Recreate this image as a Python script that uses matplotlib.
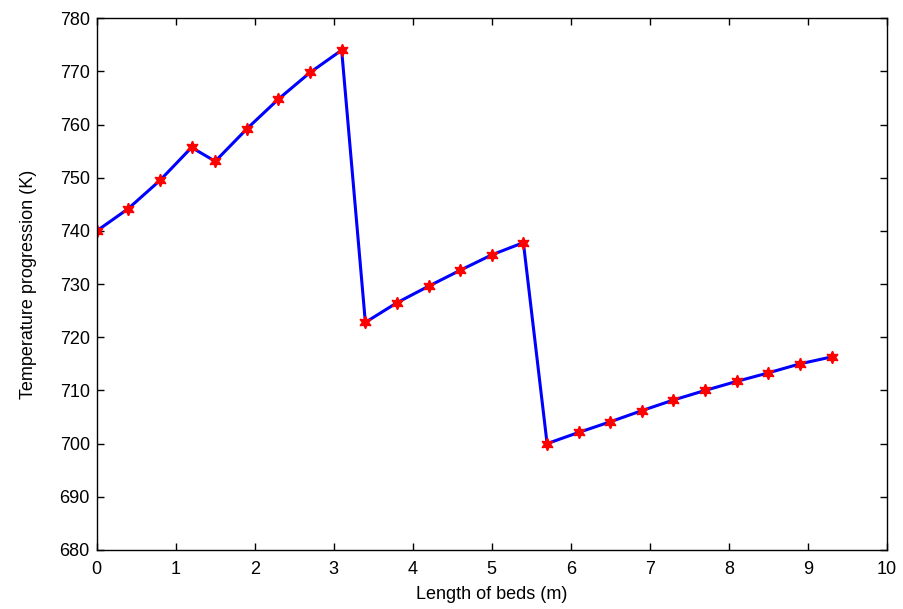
import numpy as np
import matplotlib
matplotlib.use("Agg")
import matplotlib.pyplot as plt

plt.rcParams['font.family'] = ['Liberation Sans Narrow', 'Liberation Sans', 'DejaVu Sans']

bed_length = [0, 0.4, 0.8, 1.2, 1.5, 1.9, 2.3, 2.7, 3.1,
              3.4, 3.8, 4.2, 4.6, 5.0, 5.4,
              5.7, 6.1, 6.5, 6.9, 7.3, 7.7, 8.1, 8.5, 8.9, 9.3]
temperature = [740.0, 744.2, 749.5, 755.7, 753.1, 759.2, 764.8, 769.8, 774.0,
               722.8, 726.5, 729.6, 732.6, 735.5, 737.8,
               700.0, 702.1, 704.1, 706.2, 708.2, 710.0, 711.7, 713.3, 715.0, 716.3]

fig = plt.figure(figsize=(9.04, 6.09), dpi=100)
ax = fig.add_axes([0.107, 0.097, 0.874, 0.873])

ax.plot(bed_length, temperature, color='#0000ff', lw=2.2,
        marker=(6, 1, 0), ms=9, mfc='red', mec='red')

ax.set_xlim(0, 10)
ax.set_ylim(680, 780)
ax.set_xticks(np.arange(0, 11, 1))
ax.set_yticks(np.arange(680, 781, 10))
ax.tick_params(direction='in', labelsize=13, length=5, width=1, top=True, right=True)
ax.tick_params(axis='x', pad=8)
ax.tick_params(axis='y', pad=5)
for s in ax.spines.values():
    s.set_linewidth(1)
ax.set_xlabel('Length of beds (m)', fontsize=13, labelpad=6)
ax.set_ylabel('Temperature progression (K)', fontsize=13, labelpad=16)

fig.savefig('out.png', dpi=100)
